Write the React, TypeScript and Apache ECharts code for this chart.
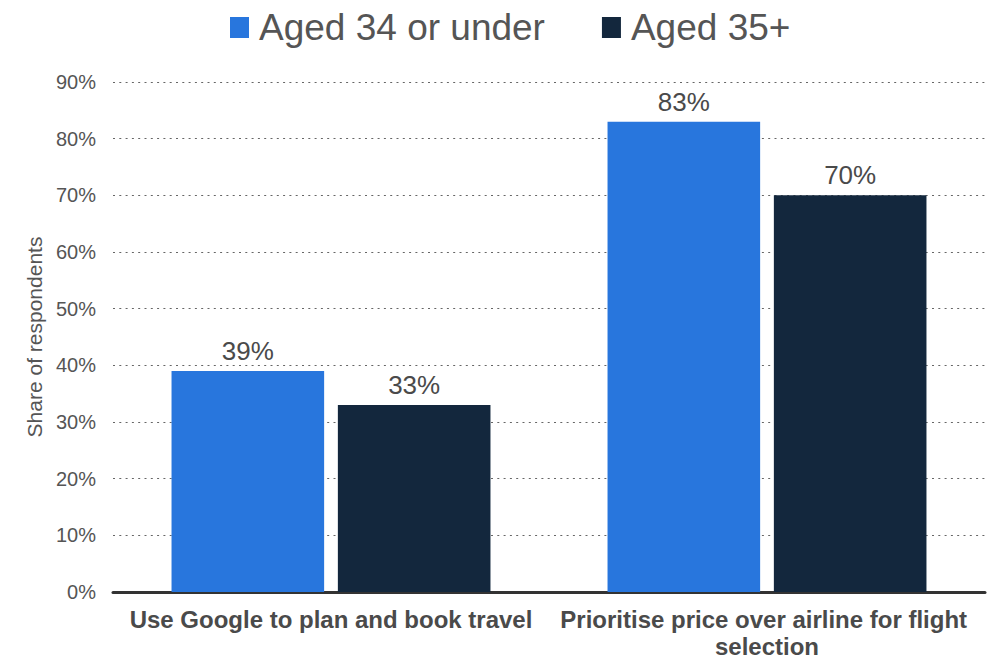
import React, { useEffect, useRef } from "react";
import * as echarts from "echarts";

const categories = [
  "Use Google to plan and book travel",
  "Prioritise price over airline for flight selection",
];
const seriesNames = ["Aged 34 or under", "Aged 35+"];
const young = [39, 83];
const older = [33, 70];
const colors = ["#2876dd", "#13273d"];

export default function App() {
  const ref = useRef<HTMLDivElement>(null);
  useEffect(() => {
    if (!ref.current) return;
    const chart = echarts.init(ref.current, null, { renderer: "svg" });
    const font = "Arial, 'Liberation Sans', sans-serif";
    const label = {
      show: true,
      position: "top",
      formatter: "{c}%",
      fontSize: 26,
      color: "#4a4a4a",
      fontFamily: font,
      distance: 7,
    };
    chart.setOption({
      animation: false,
      textStyle: { fontFamily: font },
      legend: {
        top: 4,
        left: 225,
        itemWidth: 19,
        itemHeight: 21,
        itemGap: 57,
        icon: "rect",
        textStyle: {
          fontSize: 37,
          color: "#555",
          fontFamily: font,
          padding: [0, 0, 0, 5],
        },
        data: seriesNames,
      },
      grid: { left: 113, right: 5, top: 82, bottom: 68, containLabel: false },
      xAxis: {
        type: "category",
        data: categories,
        axisLine: { show: true, lineStyle: { color: "#333", width: 3 } },
        axisTick: { show: false },
        axisLabel: {
          interval: 0,
          fontSize: 24,
          fontWeight: "bold",
          color: "#4a4a4a",
          fontFamily: font,
          width: 425,
          overflow: "break",
          margin: 14,
          lineHeight: 27,
        },
      },
      yAxis: {
        type: "value",
        min: 0,
        max: 90,
        interval: 10,
        name: "Share of respondents",
        nameLocation: "middle",
        nameGap: 68,
        nameRotate: 90,
        nameTextStyle: { fontSize: 21, color: "#555", fontFamily: font },
        axisLine: { show: false },
        axisTick: { show: false },
        axisLabel: {
          formatter: "{value}%",
          fontSize: 20,
          color: "#555",
          fontFamily: font,
          margin: 17,
        },
        splitLine: {
          show: true,
          lineStyle: { type: [2, 4.3], color: "#666", width: 1 },
        },
      },
      series: [
        {
          name: seriesNames[0],
          type: "bar",
          data: young,
          barWidth: "35%",
          barGap: "9%",
          itemStyle: { color: colors[0] },
          label,
        },
        {
          name: seriesNames[1],
          type: "bar",
          data: older,
          barWidth: "35%",
          barGap: "9%",
          itemStyle: { color: colors[1] },
          label,
        },
      ],
    });
    return () => chart.dispose();
  }, []);
  return (
    <div
      ref={ref}
      style={{ position: "absolute", left: 0, top: 0, width: 990, height: 660 }}
    />
  );
}
